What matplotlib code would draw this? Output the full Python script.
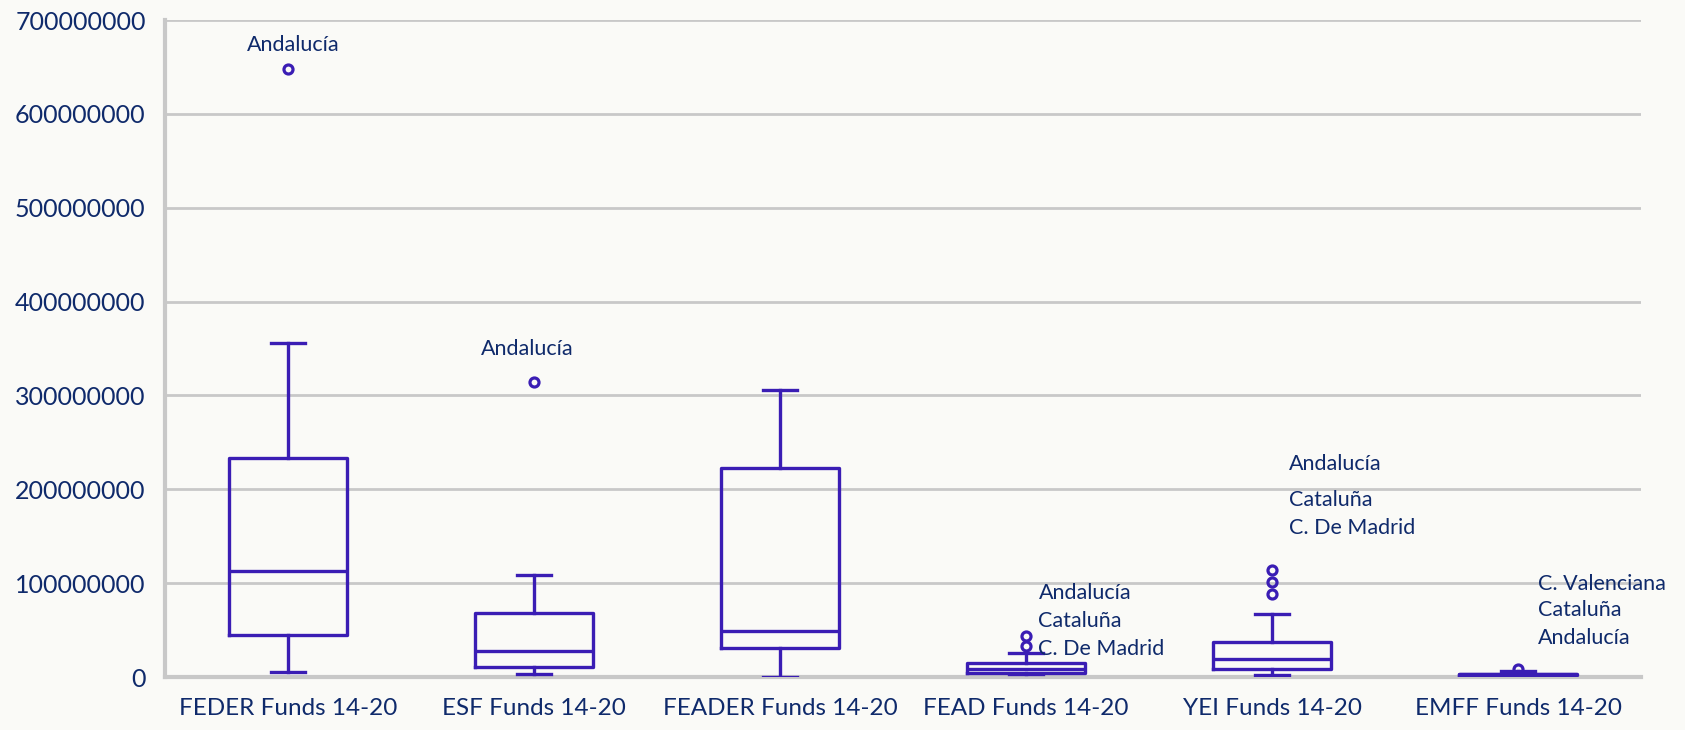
import matplotlib
matplotlib.use('Agg')
from matplotlib import pyplot as plt

plt.rcParams['font.family'] = ['Lato', 'DejaVu Sans']

funds = ['FEDER Funds 14-20', 'ESF Funds 14-20', 'FEADER Funds 14-20',
         'FEAD Funds 14-20', 'YEI Funds 14-20', 'EMFF Funds 14-20']

# box statistics (euros)
whislo = [5e6, 3e6, 0, 3e6, 2e6, 1.5e6]
q1 = [44.7e6, 10.6e6, 31e6, 4e6, 8.5e6, 2.5e6]
med = [113e6, 27.7e6, 49e6, 9e6, 19e6, 3e6]
q3 = [233.6e6, 68.7e6, 223e6, 14.6e6, 37e6, 3.5e6]
whishi = [356e6, 108.6e6, 305.6e6, 26e6, 66.8e6, 6e6]
fliers = [[648e6], [314.7e6], [], [33e6, 43.7e6], [88e6, 100.8e6, 114e6], [8.5e6]]

# outlier region names
outlier_names = [['Andalucía'], ['Andalucía'], [],
                 ['Andalucía', 'Cataluña', 'C. De Madrid'],
                 ['Andalucía', 'Cataluña', 'C. De Madrid'],
                 ['C. Valenciana', 'Cataluña', 'Andalucía']]

box_col = '#3A1DB4'
txt_col = '#0F2A6B'
grid_col = '#C8C8C8'

fig = plt.figure(figsize=(16.85, 7.3), dpi=100)
fig.patch.set_facecolor('#FAFAF7')
ax = fig.add_axes([0.098, 0.0726, 0.876, 0.9])
ax.set_facecolor('#FAFAF7')

stats = []
for i in range(len(funds)):
    stats.append(dict(whislo=whislo[i], q1=q1[i], med=med[i], q3=q3[i],
                      whishi=whishi[i], fliers=fliers[i]))

ax.bxp(stats, positions=range(1, 7), widths=0.48, showfliers=True,
       boxprops=dict(color=box_col, linewidth=2.4),
       medianprops=dict(color=box_col, linewidth=2.4),
       whiskerprops=dict(color=box_col, linewidth=2.4),
       capprops=dict(color=box_col, linewidth=2.4),
       flierprops=dict(marker='o', markerfacecolor='none', markeredgecolor=box_col,
                       markeredgewidth=2.3, markersize=6.5),
       capwidths=0.14, zorder=3)

ax.set_xlim(0.5, 6.5)
ax.set_ylim(0, 7e8)
ax.set_yticks([i * 1e8 for i in range(8)])
ax.set_yticklabels([str(i * 100000000) for i in range(8)])
ax.set_xticks(range(1, 7))
ax.set_xticklabels(funds)
ax.tick_params(axis='y', length=0, pad=14, labelsize=18, labelcolor=txt_col)
ax.tick_params(axis='x', length=0, pad=15, labelsize=17.5, labelcolor=txt_col)

ax.grid(axis='y', color=grid_col, linewidth=2)
ax.set_axisbelow(True)
for s in ['top', 'right']:
    ax.spines[s].set_visible(False)
for s in ['left', 'bottom']:
    ax.spines[s].set_color(grid_col)
    ax.spines[s].set_linewidth(3)

# label placement (x in category units, y in euros)
label_pos = [[(1.02, 6.73e8)],
             [(1.97, 3.49e8)],
             [],
             [(4.05, 0.895e8), (4.05, 0.596e8), (4.05, 0.298e8)],
             [(5.07, 2.27e8), (5.07, 1.885e8), (5.07, 1.587e8)],
             [(6.08, 0.996e8), (6.08, 0.714e8), (6.08, 0.415e8)]]

for i, names in enumerate(outlier_names):
    for name, (lx, ly) in zip(names, label_pos[i]):
        ha = 'center' if len(names) == 1 else 'left'
        ax.text(lx, ly, name, ha=ha, va='center', fontsize=15.5, color=txt_col,
                zorder=4)

fig.savefig('out.png', dpi=100, facecolor=fig.get_facecolor())
